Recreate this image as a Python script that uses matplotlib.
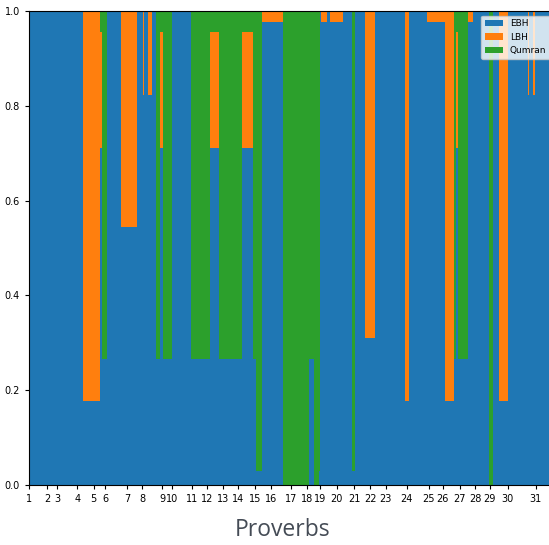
import numpy as np
import matplotlib.pyplot as plt

# segment start positions (verse index) and the share of each corpus
seg_start = [1, 95, 125, 128, 137, 161, 190, 199, 202, 208, 215, 223, 229, 235,
             251, 284, 317, 333, 372, 392, 397, 407, 444, 490, 498, 507, 509,
             510, 520, 526, 549, 565, 569, 587, 599, 600, 604, 657, 664, 695,
             727, 743, 746, 750, 766, 776, 804, 811, 821, 836, 872, 873, 880,
             883]
ebh = [1, .177, .71, .265, 1, .545, 1, .823, 1, .823, 1, .265, .71, .265,
       1, .265, .71, .265, .71, .265, .03, .977, 0, .265, 0, .03, 1,
       .977, 1, .977, 1, .03, 1, .31, 1, .31, 1, .177, 1, .977,
       .177, .265, .71, .265, .977, 1, 0, 1, .177, 1, .823, 1, .823,
       1]
lbh = [0, .823, .245, 0, 0, .455, 0, .177, 0, .177, 0, 0, .245, 0,
       0, 0, .245, 0, .245, 0, 0, .023, 0, 0, 0, 0, 0,
       .023, 0, .023, 0, 0, 0, .69, 0, .69, 0, .823, 0, .023,
       .823, 0, .245, 0, .023, 0, 0, 0, .823, 0, .177, 0, .177,
       0]
qumran = [0, 0, .045, .735, 0, 0, 0, 0, 0, 0, 0, .735, .045, .735,
          0, .735, .045, .735, .045, .735, .97, 0, 1, .735, 1, .97, 0,
          0, 0, 0, 0, .97, 0, 0, 0, 0, 0, 0, 0, 0,
          0, .735, .045, .735, 0, 0, 1, 0, 0, 0, 0, 0, 0,
          0]
last_verse = 915

chapter_start = [1, 33, 50, 85, 114, 134, 172, 198, 233, 250, 285, 311, 339,
                 365, 395, 423, 458, 486, 508, 538, 568, 596, 623, 660, 698,
                 723, 752, 779, 805, 836, 885]
chapter_labels = [str(i) for i in range(1, 32)]

x = np.array(seg_start + [last_verse])
ys = [np.array(s + s[-1:]) for s in (ebh, lbh, qumran)]

fig = plt.figure(figsize=(5.49, 5.45), dpi=100)
ax = fig.add_axes([29 / 549, 60 / 545, 524 / 549, 474 / 545])
ax.stackplot(x, *ys, labels=["EBH", "LBH", "Qumran"], step="post")
ax.set_xlim(1, last_verse)
ax.set_ylim(0, 1)
ax.set_xticks(chapter_start)
ax.set_xticklabels(chapter_labels)
ax.set_yticks([0, 0.2, 0.4, 0.6, 0.8, 1.0])
ax.tick_params(labelsize=7, length=3)
ax.legend(loc="upper right", fontsize=6.5, bbox_to_anchor=(1.003, 1.0))

fig.text(0.515, 0.028, "Proverbs", ha="center", va="center",
         fontsize=16.5, family="Open Sans", color="#444b55")

fig.savefig("out.png", dpi=100)
